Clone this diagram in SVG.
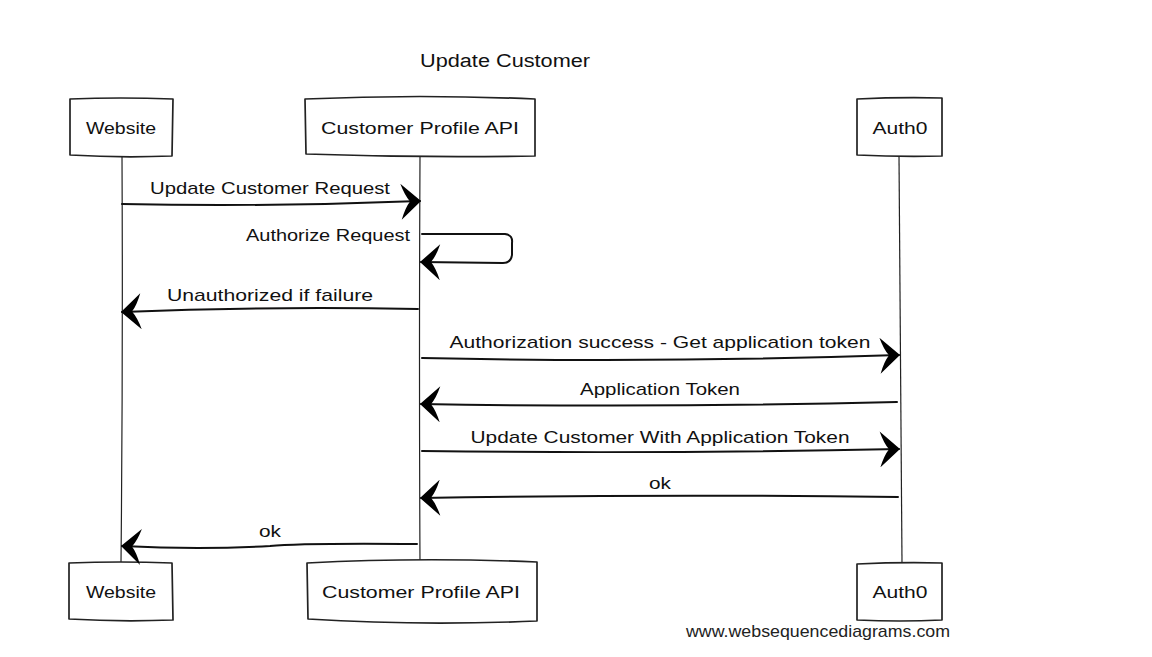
<svg xmlns="http://www.w3.org/2000/svg" width="1152" height="657" viewBox="0 0 1152 657">
<defs>
<style>
.box{fill:#fff;stroke:#222;stroke-width:1.7;stroke-linejoin:round}
.life{fill:none;stroke:#222;stroke-width:1.2}
.msg{fill:none;stroke:#111;stroke-width:2;stroke-linecap:round}
.lbl{font-family:"Liberation Sans",Arial,sans-serif;font-size:17px;fill:#111}
.title{font-family:"Liberation Sans",Arial,sans-serif;font-size:18px;fill:#111}
.wm{font-family:"Liberation Sans",Arial,sans-serif;font-size:17px;fill:#222}
</style>
<marker id="ah" viewBox="0 0 24 36" refX="23" refY="18" markerWidth="24" markerHeight="36" markerUnits="userSpaceOnUse" orient="auto">
<path d="M24,18 L4,0 Q8,12 13,18 Q8,24 4,36 Z" fill="#000"/>
</marker>
</defs>
<rect width="1152" height="657" fill="#fff"/>
<text class="title" x="505" y="67" text-anchor="middle" textLength="170" lengthAdjust="spacingAndGlyphs">Update Customer</text>

<g id="lifelines">
<path class="life" d="M122,156 Q123,360 121,563"/>
<path class="life" d="M420,156 Q419,360 420,563"/>
<path class="life" d="M899,156 Q901,360 902,563"/>
</g>

<g id="website-top">
<path class="box" d="M70,99 Q120,97 173,99 L172,156 Q120,158 70,155 Z"/>
<text class="lbl" x="121" y="134" text-anchor="middle" textLength="70" lengthAdjust="spacingAndGlyphs">Website</text>
</g>
<g id="api-top">
<path class="box" d="M305,99 Q420,94 535,99 L535,156 Q420,158 306,154 Z"/>
<text class="lbl" x="420" y="134" text-anchor="middle" textLength="198" lengthAdjust="spacingAndGlyphs">Customer Profile API</text>
</g>
<g id="auth0-top">
<path class="box" d="M857,99 Q900,97 942,98 L942,156 Q900,157 857,155 Z"/>
<text class="lbl" x="900" y="134" text-anchor="middle" textLength="55" lengthAdjust="spacingAndGlyphs">Auth0</text>
</g>

<g id="website-bottom">
<path class="box" d="M69,563 Q120,561 172,563 L173,620 Q120,622 69,619 Z"/>
<text class="lbl" x="121" y="598" text-anchor="middle" textLength="70" lengthAdjust="spacingAndGlyphs">Website</text>
</g>
<g id="api-bottom">
<path class="box" d="M307,563 Q420,557 537,562 L537,621 Q420,626 308,619 Z"/>
<text class="lbl" x="421" y="598" text-anchor="middle" textLength="198" lengthAdjust="spacingAndGlyphs">Customer Profile API</text>
</g>
<g id="auth0-bottom">
<path class="box" d="M857,564 Q900,562 942,563 L942,620 Q900,622 857,620 Z"/>
<text class="lbl" x="900" y="598" text-anchor="middle" textLength="55" lengthAdjust="spacingAndGlyphs">Auth0</text>
</g>

<g id="connectors">
<path class="msg" d="M122,204 Q270,207 420,201" marker-end="url(#ah)"/>
<text class="lbl" x="270" y="194" text-anchor="middle" textLength="240" lengthAdjust="spacingAndGlyphs">Update Customer Request</text>

<path class="msg" d="M422,234 L505,234 Q513,235 512,243 L512,255 Q511,263 503,263 L421,262" marker-end="url(#ah)"/>
<text class="lbl" x="410" y="241" text-anchor="end" textLength="164" lengthAdjust="spacingAndGlyphs">Authorize Request</text>

<path class="msg" d="M418,309 Q270,306 122,312" marker-end="url(#ah)"/>
<text class="lbl" x="270" y="301" text-anchor="middle" textLength="206" lengthAdjust="spacingAndGlyphs">Unauthorized if failure</text>

<path class="msg" d="M422,358 Q660,363 899,355" marker-end="url(#ah)"/>
<text class="lbl" x="660" y="348" text-anchor="middle" textLength="421" lengthAdjust="spacingAndGlyphs">Authorization success - Get application token</text>

<path class="msg" d="M897,402 Q660,408 421,404" marker-end="url(#ah)"/>
<text class="lbl" x="660" y="395" text-anchor="middle" textLength="160" lengthAdjust="spacingAndGlyphs">Application Token</text>

<path class="msg" d="M422,451 Q660,454 899,449" marker-end="url(#ah)"/>
<text class="lbl" x="660" y="443" text-anchor="middle" textLength="379" lengthAdjust="spacingAndGlyphs">Update Customer With Application Token</text>

<path class="msg" d="M898,497 Q660,494 421,498" marker-end="url(#ah)"/>
<text class="lbl" x="660" y="489" text-anchor="middle" textLength="22" lengthAdjust="spacingAndGlyphs">ok</text>

<path class="msg" d="M417,544 Q300,543 270,546 Q200,550 122,546" marker-end="url(#ah)"/>
<text class="lbl" x="270" y="537" text-anchor="middle" textLength="22" lengthAdjust="spacingAndGlyphs">ok</text>
</g>

<text class="wm" x="686" y="637" textLength="264" lengthAdjust="spacingAndGlyphs">www.websequencediagrams.com</text>
</svg>
